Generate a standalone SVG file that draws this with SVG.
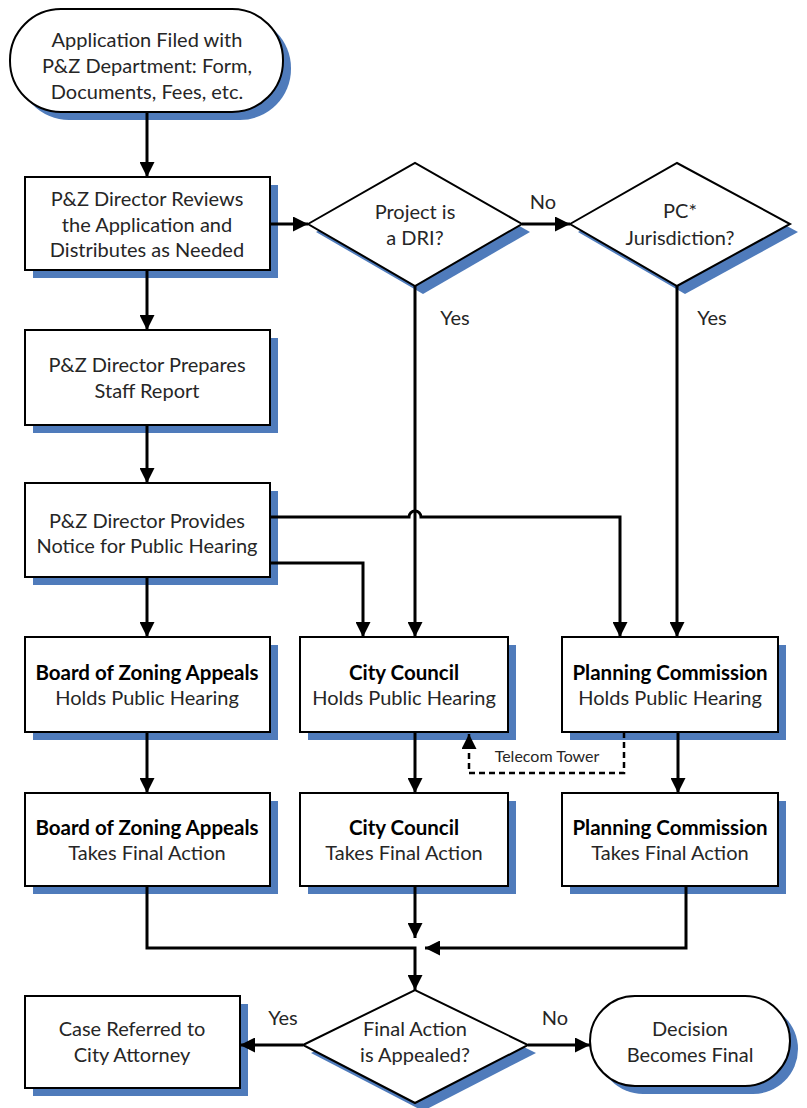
<svg xmlns="http://www.w3.org/2000/svg" width="807" height="1108" viewBox="0 0 807 1108">
<defs>
<style>
.sh{fill:#4f7bbb;stroke:none}
.nd{fill:#fff;stroke:#000;stroke-width:2}
.t{font-family:Lato,"Open Sans","Liberation Sans",sans-serif;font-size:20px;fill:#262626;text-anchor:middle}
.b{font-weight:bold;fill:#000;font-size:20.5px}
.s{font-size:16px}
.c{fill:none;stroke:#000;stroke-width:3}
.d{fill:none;stroke:#000;stroke-width:2.5;stroke-dasharray:6,4}
</style>
<marker id="ah" viewBox="0 0 10 10" refX="10" refY="5" markerWidth="5" markerHeight="5" orient="auto" markerUnits="strokeWidth"><path d="M0,0 L10,5 L0,10 z" fill="#000"/></marker>
<marker id="ahs" viewBox="0 0 10 10" refX="10" refY="5" markerWidth="6" markerHeight="6" orient="auto" markerUnits="strokeWidth"><path d="M0,0 L10,5 L0,10 z" fill="#000"/></marker>
</defs>
<rect width="807" height="1108" fill="#fff"/>

<g id="start">
<rect class="sh" x="18" y="17" width="273" height="103" rx="51"/>
<rect class="nd" x="10" y="9" width="273" height="103" rx="51"/>
<text class="t" x="147" y="47">Application Filed with</text>
<text class="t" x="147" y="73">P&amp;Z Department: Form,</text>
<text class="t" x="147" y="99">Documents, Fees, etc.</text>
</g>

<g id="review">
<rect class="sh" x="33" y="185" width="245" height="93"/>
<rect class="nd" x="25" y="177" width="245" height="93"/>
<text class="t" x="147" y="206">P&amp;Z Director Reviews</text>
<text class="t" x="147" y="232">the Application and</text>
<text class="t" x="147" y="257">Distributes as Needed</text>
</g>

<g id="dri">
<polygon class="sh" points="316,232 423,171 530,232 423,294"/>
<polygon class="nd" points="308,224 415,163 522,224 415,286"/>
<text class="t" x="415" y="219">Project is</text>
<text class="t" x="415" y="245">a DRI?</text>
</g>

<g id="pcj">
<polygon class="sh" points="578,232 685,171 798,232 685,294"/>
<polygon class="nd" points="570,224 677,163 790,224 677,286"/>
<text class="t" x="680" y="218">PC*</text>
<text class="t" x="680" y="245">Jurisdiction?</text>
</g>

<g id="prepare">
<rect class="sh" x="33" y="338" width="245" height="95"/>
<rect class="nd" x="25" y="330" width="245" height="95"/>
<text class="t" x="147" y="372">P&amp;Z Director Prepares</text>
<text class="t" x="147" y="398">Staff Report</text>
</g>

<g id="notice">
<rect class="sh" x="33" y="491" width="245" height="94"/>
<rect class="nd" x="25" y="483" width="245" height="94"/>
<text class="t" x="147" y="528">P&amp;Z Director Provides</text>
<text class="t" x="147" y="553">Notice for Public Hearing</text>
</g>

<g id="bza-hearing">
<rect class="sh" x="33" y="645" width="245" height="95"/>
<rect class="nd" x="25" y="637" width="245" height="95"/>
<text class="t b" x="147" y="680">Board of Zoning Appeals</text>
<text class="t" x="147" y="705">Holds Public Hearing</text>
</g>

<g id="cc-hearing">
<rect class="sh" x="308" y="645" width="208" height="95"/>
<rect class="nd" x="300" y="637" width="208" height="95"/>
<text class="t b" x="404" y="680">City Council</text>
<text class="t" x="404" y="705">Holds Public Hearing</text>
</g>

<g id="pc-hearing">
<rect class="sh" x="570" y="645" width="216" height="95"/>
<rect class="nd" x="562" y="637" width="216" height="95"/>
<text class="t b" x="670" y="680">Planning Commission</text>
<text class="t" x="670" y="705">Holds Public Hearing</text>
</g>

<g id="bza-action">
<rect class="sh" x="33" y="801" width="245" height="93"/>
<rect class="nd" x="25" y="793" width="245" height="93"/>
<text class="t b" x="147" y="835">Board of Zoning Appeals</text>
<text class="t" x="147" y="860">Takes Final Action</text>
</g>

<g id="cc-action">
<rect class="sh" x="308" y="801" width="208" height="93"/>
<rect class="nd" x="300" y="793" width="208" height="93"/>
<text class="t b" x="404" y="835">City Council</text>
<text class="t" x="404" y="860">Takes Final Action</text>
</g>

<g id="pc-action">
<rect class="sh" x="570" y="801" width="216" height="93"/>
<rect class="nd" x="562" y="793" width="216" height="93"/>
<text class="t b" x="670" y="835">Planning Commission</text>
<text class="t" x="670" y="860">Takes Final Action</text>
</g>

<g id="appealed">
<polygon class="sh" points="311,1053 423,998 536,1053 423,1111"/>
<polygon class="nd" points="303,1045 415,990 528,1045 415,1103"/>
<text class="t" x="415" y="1036">Final Action</text>
<text class="t" x="415" y="1062">is Appealed?</text>
</g>

<g id="attorney">
<rect class="sh" x="33" y="1004" width="215" height="92"/>
<rect class="nd" x="25" y="996" width="215" height="92"/>
<text class="t" x="132" y="1036">Case Referred to</text>
<text class="t" x="132" y="1062">City Attorney</text>
</g>

<g id="final">
<rect class="sh" x="598" y="1004" width="200" height="90" rx="45"/>
<rect class="nd" x="590" y="996" width="200" height="90" rx="45"/>
<text class="t" x="690" y="1036">Decision</text>
<text class="t" x="690" y="1062">Becomes Final</text>
</g>

<g id="connectors">
<path class="c" d="M147,112 V177" marker-end="url(#ah)"/>
<path class="c" d="M270,224 H308" marker-end="url(#ah)"/>
<path class="c" d="M522,224 H570" marker-end="url(#ah)"/>
<path class="c" d="M415,286 V637" marker-end="url(#ah)"/>
<path class="c" d="M677,286 V637" marker-end="url(#ah)"/>
<path class="c" d="M147,270 V330" marker-end="url(#ah)"/>
<path class="c" d="M147,425 V483" marker-end="url(#ah)"/>
<path class="c" d="M147,577 V637" marker-end="url(#ah)"/>
<path class="c" d="M270,517 H409 A6,6 0 0 1 421,517 H620 V637" marker-end="url(#ah)"/>
<path class="c" d="M270,563 H363 V637" marker-end="url(#ah)"/>
<path class="c" d="M147,732 V793" marker-end="url(#ah)"/>
<path class="c" d="M415,732 V793" marker-end="url(#ah)"/>
<path class="c" d="M678,732 V793" marker-end="url(#ah)"/>
<path class="d" d="M624,732 V773 H469 V734" marker-end="url(#ahs)"/>
<path class="c" d="M415,886 V938" marker-end="url(#ah)"/>
<path class="c" d="M147,886 V948 H415 V990" marker-end="url(#ah)"/>
<path class="c" d="M686,886 V948 H425" marker-end="url(#ah)"/>
<path class="c" d="M303,1045 H240" marker-end="url(#ah)"/>
<path class="c" d="M528,1045 H590" marker-end="url(#ah)"/>
<text class="t" x="543" y="209">No</text>
<text class="t" x="455" y="325">Yes</text>
<text class="t" x="712" y="325">Yes</text>
<text class="t s" x="547" y="762">Telecom Tower</text>
<text class="t" x="283" y="1025">Yes</text>
<text class="t" x="555" y="1025">No</text>
</g>
</svg>
